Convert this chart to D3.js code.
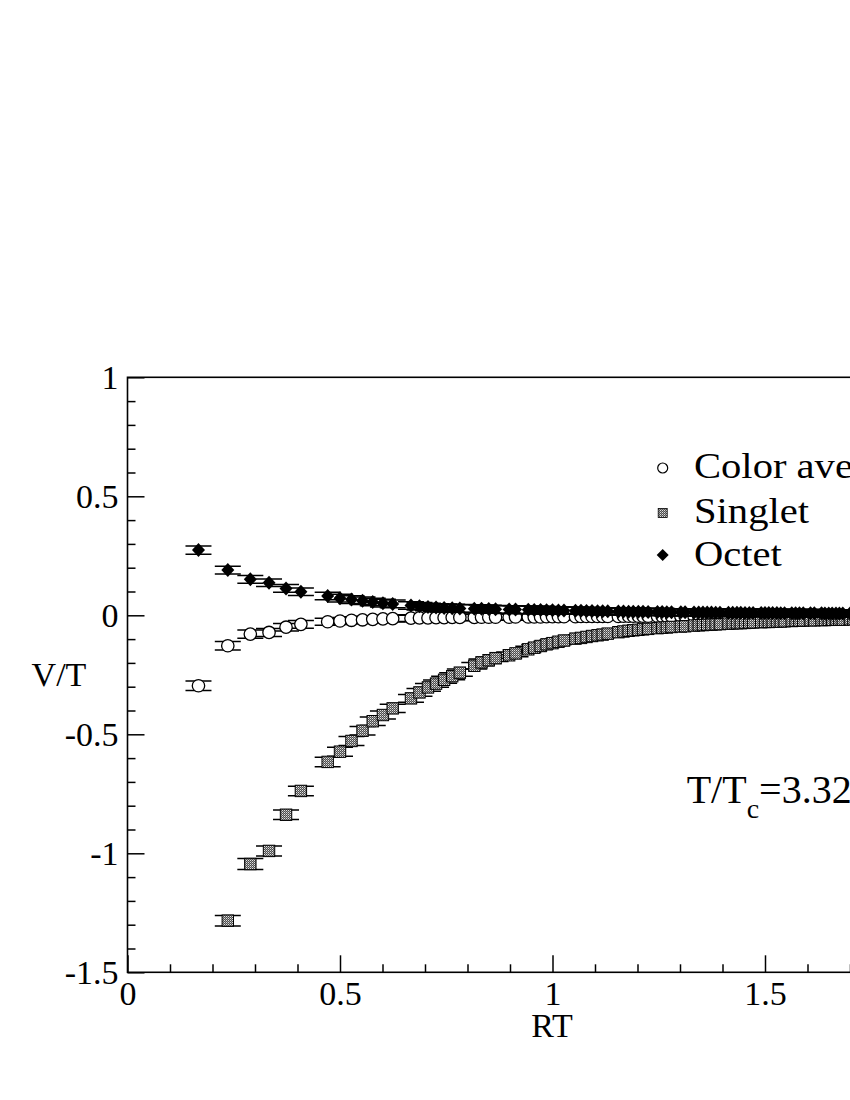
<!DOCTYPE html>
<html><head><meta charset="utf-8">
<script src="https://cdn.jsdelivr.net/npm/d3@7"></script>
<style>
html,body{margin:0;padding:0;background:#fff;overflow:hidden;}
svg{display:block;font-family:"Liberation Serif","Times New Roman",serif;}
</style></head><body>
<svg id="chart" width="850" height="1100"></svg>
<script>
// ---------------- data ----------------
const rt = [0.167,0.236,0.289,0.333,0.373,0.408,0.471,0.500,0.527,0.553,
            0.577,0.601,0.624,0.667,0.687,0.707,0.726,0.745,0.764,0.782,
            0.816,0.833,0.850,0.866,0.898,0.913,0.943,0.957,0.972,0.986,
            1.000,1.014,1.027,1.054,1.067,1.080,1.093,1.106,1.118,1.130,
            1.155,1.167,1.179,1.190,1.202,1.213,1.225,1.247,1.258,1.269,
            1.280,1.302,1.312,1.333,1.344,1.354,1.364,1.374,1.384,1.394,
            1.414,1.424,1.434,1.443,1.453,1.463,1.472,1.491,1.500,1.509,
            1.518,1.528,1.537,1.546,1.563,1.572,1.581,1.590,1.607,1.616,
            1.633,1.641,1.650,1.658,1.667,1.675,1.683,1.700,1.708,1.716,
            1.724,1.732,1.740,1.748];

const colorAvg = [-0.296,-0.128,-0.079,-0.072,-0.050,-0.038,-0.027,-0.024,-0.021,-0.019,
                  -0.017,-0.015,-0.014,-0.012,-0.011,-0.011,-0.010,-0.010,-0.009,-0.009,
                  -0.009,-0.008,-0.008,-0.008,-0.008,-0.007,-0.007,-0.007,-0.007,-0.006,
                  -0.006,-0.006,-0.006,-0.006,-0.005,-0.005,-0.005,-0.005,-0.005,-0.005,
                  -0.005,-0.004,-0.004,-0.004,-0.004,-0.004,-0.004,-0.004,-0.004,-0.004,
                  -0.004,-0.004,-0.003,-0.003,-0.003,-0.003,-0.003,-0.003,-0.003,-0.003,
                  -0.003,-0.003,-0.003,-0.003,-0.003,-0.003,-0.003,-0.003,-0.003,-0.003,
                  -0.003,-0.003,-0.003,-0.003,-0.003,-0.003,-0.003,-0.003,-0.003,-0.003,
                  -0.003,-0.003,-0.003,-0.003,-0.003,-0.003,-0.003,-0.003,-0.003,-0.003,
                  -0.003,-0.003,-0.003,-0.003];
const colorErr = [0.020,0.018,0.017,0.017,0.016,0.016,0.015,0.015,0.015,0.015,
                  0.014,0.014,0.014,0.014,0.014,0.014,0.014,0.014,0.014,0.014,
                  0.013,0.013,0.013,0.013,0.013,0.013,0.013,0.013,0.013,0.013,
                  0.013,0.013,0.013,0.013,0.013,0.013,0.013,0.013,0.013,0.013,
                  0.012,0.012,0.012,0.012,0.012,0.012,0.012,0.012,0.012,0.012,
                  0.012,0.012,0.012,0.012,0.012,0.012,0.012,0.012,0.012,0.012,
                  0.012,0.012,0.012,0.012,0.012,0.012,0.012,0.012,0.012,0.012,
                  0.012,0.012,0.012,0.012,0.012,0.012,0.012,0.012,0.012,0.012,
                  0.012,0.012,0.012,0.012,0.012,0.012,0.012,0.012,0.012,0.012,
                  0.012,0.012,0.012,0.012];

const singlet = [null,-1.283,-1.045,-0.990,-0.838,-0.738,-0.616,-0.573,-0.528,-0.485,
                 -0.445,-0.419,-0.391,-0.349,-0.324,-0.303,-0.287,-0.271,-0.256,-0.241,
                 -0.212,-0.198,-0.189,-0.180,-0.168,-0.160,-0.143,-0.136,-0.129,-0.122,
                 -0.117,-0.111,-0.106,-0.098,-0.095,-0.091,-0.087,-0.084,-0.081,-0.077,
                 -0.071,-0.068,-0.065,-0.063,-0.061,-0.059,-0.057,-0.054,-0.052,-0.051,
                 -0.049,-0.047,-0.046,-0.043,-0.042,-0.041,-0.040,-0.039,-0.038,-0.037,
                 -0.035,-0.034,-0.033,-0.033,-0.032,-0.031,-0.030,-0.029,-0.028,-0.028,
                 -0.027,-0.026,-0.026,-0.025,-0.024,-0.023,-0.023,-0.022,-0.021,-0.021,
                 -0.020,-0.020,-0.019,-0.019,-0.018,-0.018,-0.018,-0.017,-0.017,-0.016,
                 -0.016,-0.016,-0.015,-0.015];
const singletErr = [0,0.022,0.023,0.021,0.020,0.020,0.020,0.019,0.019,0.018,
                    0.018,0.017,0.017,0.016,0.016,0.016,0.015,0.015,0.015,0.015,
                    0.014,0.014,0.014,0.014,0.014,0.014,0.013,0.013,0.013,0.013,
                    0.013,0.013,0.013,0.013,0.013,0.013,0.012,0.012,0.012,0.012,
                    0.012,0.012,0.012,0.012,0.012,0.012,0.012,0.012,0.012,0.012,
                    0.012,0.012,0.012,0.012,0.012,0.012,0.012,0.012,0.012,0.012,
                    0.012,0.012,0.012,0.012,0.012,0.012,0.012,0.012,0.012,0.012,
                    0.012,0.012,0.012,0.012,0.012,0.012,0.012,0.012,0.012,0.012,
                    0.012,0.012,0.012,0.012,0.012,0.012,0.012,0.012,0.012,0.012,
                    0.012,0.012,0.012,0.012];

const octet = [0.274,0.190,0.151,0.137,0.113,0.099,0.081,0.072,0.066,0.061,
               0.056,0.051,0.048,0.041,0.038,0.035,0.033,0.031,0.030,0.029,
               0.028,0.027,0.026,0.025,0.024,0.024,0.023,0.022,0.022,0.021,
               0.021,0.020,0.020,0.019,0.019,0.018,0.018,0.017,0.017,0.017,
               0.016,0.016,0.015,0.015,0.015,0.015,0.014,0.014,0.014,0.013,
               0.013,0.013,0.013,0.012,0.012,0.012,0.012,0.012,0.011,0.011,
               0.011,0.011,0.011,0.011,0.010,0.010,0.010,0.010,0.010,0.010,
               0.010,0.010,0.009,0.009,0.009,0.009,0.009,0.009,0.009,0.009,
               0.009,0.008,0.008,0.008,0.008,0.008,0.008,0.008,0.008,0.008,
               0.008,0.008,0.008,0.008];
const octetErr = [0.017,0.016,0.016,0.016,0.016,0.016,0.016,0.016,0.016,0.016,
                  0.016,0.016,0.016,0.016,0.016,0.016,0.016,0.016,0.016,0.016,
                  0.016,0.016,0.016,0.016,0.016,0.016,0.016,0.016,0.016,0.016,
                  0.015,0.015,0.015,0.015,0.015,0.015,0.015,0.015,0.015,0.015,
                  0.015,0.015,0.015,0.015,0.015,0.015,0.015,0.015,0.015,0.015,
                  0.015,0.015,0.015,0.015,0.015,0.015,0.015,0.015,0.015,0.015,
                  0.015,0.015,0.015,0.015,0.015,0.015,0.015,0.015,0.015,0.015,
                  0.015,0.015,0.015,0.015,0.015,0.015,0.015,0.015,0.015,0.015,
                  0.015,0.015,0.015,0.015,0.015,0.015,0.015,0.015,0.015,0.015,
                  0.015,0.015,0.015,0.015];

const seriesNames = ["Color averaged","Singlet","Octet"];
const xTicks = [0,0.5,1,1.5,2];
const xTickLabels = ["0","0.5","1","1.5","2"];
const yTicks = [-1.5,-1,-0.5,0,0.5,1];
const yTickLabels = ["-1.5","-1","-0.5","0","0.5","1"];
const xLabel = "RT";
const yLabel = "V/T";

// ---------------- layout ----------------
const svg = d3.select("#chart");
const X0 = 127.5, X1 = 977.5, Y0 = 972.3, Y1 = 377.3;
const x = d3.scaleLinear().domain([0,2]).range([X0,X1]);
const y = d3.scaleLinear().domain([-1.5,1]).range([Y0,Y1]);

const defs = svg.append("defs");
const pat = defs.append("pattern").attr("id","chk")
  .attr("width",2).attr("height",2).attr("patternUnits","userSpaceOnUse");
pat.append("rect").attr("width",2).attr("height",2).attr("fill","#4e4e4e");
pat.append("rect").attr("width",1).attr("height",1).attr("fill","#e0e0e0");
pat.append("rect").attr("x",1).attr("y",1).attr("width",1).attr("height",1).attr("fill","#9a9a9a");

// frame
svg.append("rect").attr("x",X0).attr("y",Y1).attr("width",X1-X0).attr("height",Y0-Y1)
  .attr("fill","none").attr("stroke","#000").attr("stroke-width",1.6);

// axes
const fs = 34;
function styleAxis(g){
  g.select(".domain").remove();
  g.selectAll(".tick line").attr("stroke","#000").attr("stroke-width",1.5);
  g.selectAll(".tick text").attr("fill","#000").style("font-size",fs+"px")
    .style("font-family",'"Liberation Serif","Times New Roman",serif');
}
const minorX = d3.range(0,2.0001,0.1).filter(v=>Math.abs(v*2-Math.round(v*2))>1e-6);
const minorY = d3.range(-1.5,1.0001,0.1).filter(v=>Math.abs(v*2-Math.round(v*2))>1e-6);

svg.append("g").attr("transform",`translate(0,${Y0})`)
  .call(d3.axisBottom(x).tickValues(minorX).tickSize(-8).tickFormat("")).call(styleAxis);
svg.append("g").attr("transform",`translate(0,${Y0})`)
  .call(d3.axisBottom(x).tickValues(xTicks).tickSize(-17).tickPadding(9)
        .tickFormat((d,i)=>xTickLabels[i])).call(styleAxis);
svg.append("g").attr("transform",`translate(${X0},0)`)
  .call(d3.axisLeft(y).tickValues(minorY).tickSize(-8).tickFormat("")).call(styleAxis);
svg.append("g").attr("transform",`translate(${X0},0)`)
  .call(d3.axisLeft(y).tickValues(yTicks).tickSize(-17).tickPadding(9)
        .tickFormat((d,i)=>yTickLabels[i])).call(styleAxis);

// axis labels
svg.append("text").attr("x",552).attr("y",1037).attr("text-anchor","middle")
  .style("font-size","34px").text(xLabel);
svg.append("text").attr("x",59).attr("y",686).attr("text-anchor","middle")
  .style("font-size","34px").text(yLabel);

// ---------------- series ----------------
const cap = 13;
function errorBars(vals, errs){
  const pts = rt.map((r,i)=>({r, v:vals[i], e:errs[i]})).filter(d=>d.v!==null);
  const g = svg.append("g").attr("stroke","#000").attr("stroke-width",1.5).attr("fill","none");
  g.selectAll("path").data(pts).join("path")
    .attr("d", d=>{
      const cx=x(d.r), yt=y(d.v+d.e), yb=y(d.v-d.e);
      return `M${cx},${yt}V${yb}M${cx-cap},${yt}H${cx+cap}M${cx-cap},${yb}H${cx+cap}`;
    });
  return pts;
}

// Color averaged: open circles
let pts = errorBars(colorAvg, colorErr);
svg.append("g").selectAll("circle").data(pts).join("circle")
  .attr("cx",d=>x(d.r)).attr("cy",d=>y(d.v)).attr("r",6.2)
  .attr("fill","#fff").attr("stroke","#000").attr("stroke-width",1.3);

// Singlet: patterned squares
pts = errorBars(singlet, singletErr);
svg.append("g").selectAll("rect").data(pts).join("rect")
  .attr("x",d=>x(d.r)-5.7).attr("y",d=>y(d.v)-5.7).attr("width",11.4).attr("height",11.4)
  .attr("fill","url(#chk)").attr("stroke","#000").attr("stroke-width",1);

// Octet: filled diamonds
pts = errorBars(octet, octetErr);
svg.append("g").selectAll("path").data(pts).join("path")
  .attr("d",d=>{const cx=x(d.r), cy=y(d.v);
    return `M${cx},${cy-7}L${cx+6.5},${cy}L${cx},${cy+7}L${cx-6.5},${cy}Z`;})
  .attr("fill","#000");

// ---------------- legend ----------------
const lg = svg.append("g");
const legY = [468, 513, 555];
const legBase = [478, 522.5, 566];
lg.append("circle").attr("cx",662.7).attr("cy",legY[0]).attr("r",5)
  .attr("fill","#fff").attr("stroke","#000").attr("stroke-width",1.2);
lg.append("rect").attr("x",662.7-4.5).attr("y",legY[1]-4.5).attr("width",9).attr("height",9)
  .attr("fill","url(#chk)").attr("stroke","#000").attr("stroke-width",0.8);
lg.append("path").attr("d",`M662.7,${legY[2]-6}L668.7,${legY[2]}L662.7,${legY[2]+6}L656.7,${legY[2]}Z`)
  .attr("fill","#000");
lg.selectAll("text").data(seriesNames).join("text")
  .attr("transform",(d,i)=>`translate(694,${legBase[i]}) scale(1.16,1)`)
  .style("font-size","35px").text(d=>d);

// annotation T/Tc=3.32
const ann = svg.append("text").attr("x",686.7).attr("y",803).style("font-size","40px");
ann.append("tspan").text("T/T");
ann.append("tspan").attr("dy",15).style("font-size","28px").text("c");
ann.append("tspan").attr("dy",-15).text("=3.32");
</script>
</body></html>
